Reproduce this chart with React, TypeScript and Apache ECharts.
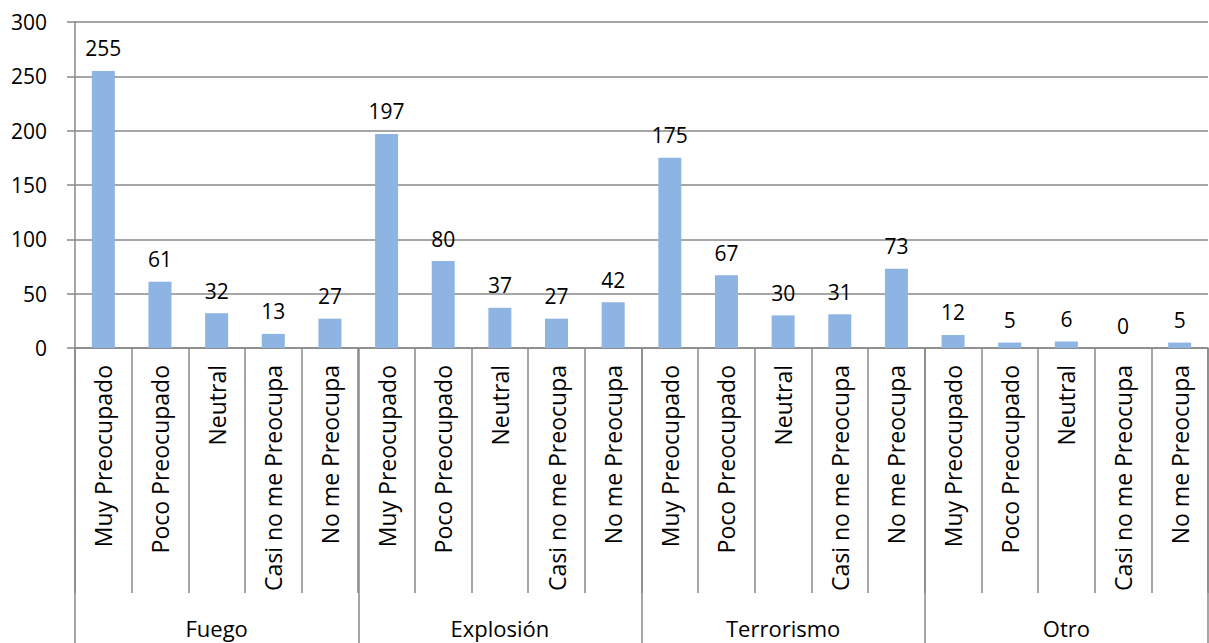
import React, { useEffect, useRef } from "react";
import * as echarts from "echarts";

const groups = ["Fuego", "Explosión", "Terrorismo", "Otro"];
const levels = ["Muy Preocupado", "Poco Preocupado", "Neutral", "Casi no me Preocupa", "No me Preocupa"];
const fuego = [255, 61, 32, 13, 27];
const explosion = [197, 80, 37, 27, 42];
const terrorismo = [175, 67, 30, 31, 73];
const otro = [12, 5, 6, 0, 5];
const yTicks = { min: 0, max: 300, interval: 50 };

const categories: string[] = [];
groups.forEach(() => levels.forEach((l) => categories.push(l)));
const values = [...fuego, ...explosion, ...terrorismo, ...otro];

const FONT = "Open Sans";
const AXIS = "#888888";

export default function App() {
  const ref = useRef<HTMLDivElement>(null);
  useEffect(() => {
    document.body.style.margin = "0";
    const chart = echarts.init(ref.current!, null, { renderer: "svg" });
    chart.setOption({
      animation: false,
      textStyle: { fontFamily: FONT },
      grid: { left: 75, right: 1, top: 22, bottom: 295, containLabel: false },
      xAxis: [
        {
          type: "category",
          data: categories,
          position: "bottom",
          axisLine: { show: true, lineStyle: { color: AXIS, width: 1.5 } },
          axisTick: { show: true, length: 245, lineStyle: { color: AXIS, width: 1.5 } },
          axisLabel: {
            rotate: 90,
            interval: 0,
            margin: 17,
            fontSize: 23,
            color: "#000",
            fontFamily: FONT,
          },
          splitLine: { show: false },
        },
        {
          type: "category",
          data: groups,
          position: "bottom",
          axisLine: { show: false },
          axisTick: { show: true, length: 295, lineStyle: { color: AXIS, width: 1.5 } },
          axisLabel: {
            interval: 0,
            margin: 269,
            fontSize: 22,
            color: "#000",
            fontFamily: FONT,
          },
          splitLine: { show: false },
        },
      ],
      yAxis: {
        type: "value",
        min: yTicks.min,
        max: yTicks.max,
        interval: yTicks.interval,
        axisLine: { show: true, lineStyle: { color: AXIS, width: 1.5 } },
        axisTick: { show: true, length: 8, lineStyle: { color: AXIS, width: 1.5 } },
        axisLabel: { margin: 28, fontSize: 21, color: "#000", fontFamily: FONT },
        splitLine: { show: true, lineStyle: { color: AXIS, width: 1.5 } },
      },
      series: [
        {
          type: "bar",
          xAxisIndex: 0,
          data: values,
          barWidth: 23,
          itemStyle: { color: "#8EB4E3" },
          label: {
            show: true,
            position: "top",
            distance: 12,
            fontSize: 21,
            color: "#000",
            fontFamily: FONT,
          },
        },
      ],
    });
    return () => chart.dispose();
  }, []);
  return <div ref={ref} style={{ position: "absolute", left: 0, top: 0, width: 1209, height: 643 }} />;
}
